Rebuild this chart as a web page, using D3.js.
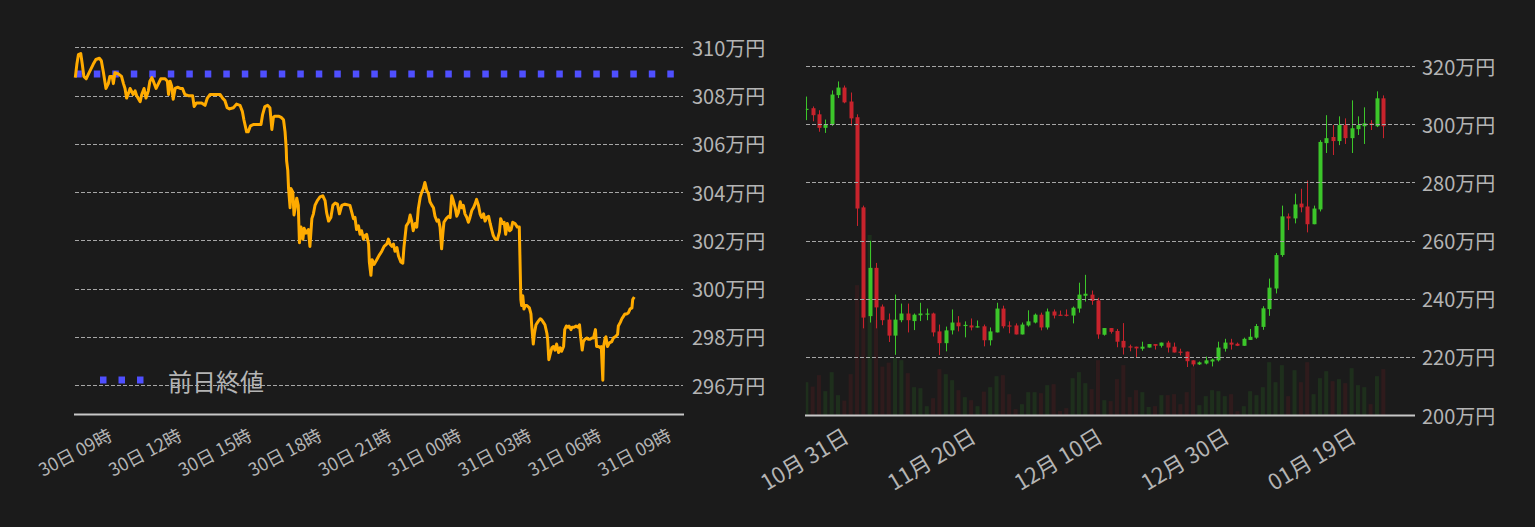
<!DOCTYPE html>
<html>
<head>
<meta charset="utf-8">
<script src="https://cdn.jsdelivr.net/npm/d3@7"></script>
<style>
  html, body { margin: 0; padding: 0; background: #1b1b1b; }
  svg { display: block; font-family: "Noto Sans CJK JP", "Noto Sans", sans-serif; }
  .grid { stroke: #a6a6a6; stroke-width: 1; stroke-dasharray: 4 2; }
  .axis-line { stroke: #c8c8c8; stroke-width: 2; }
  .label { fill: #b4b4b4; }
</style>
</head>
<body>
<svg id="chart" width="1535" height="527"></svg>
<script>
// ---- intraday (left) : [minutes after 30日 07:24, price 万円]
const intradayPrices = [
  [0,308.75],[4,309.3],[8,309.7],[14,309.75],[18,309.3],[22,308.8],[28,308.7],[34,308.9],[40,309.1],[46,309.3],
  [53,309.5],[62,309.55],[67,309.45],[72,309.0],[79,308.3],[85,308.5],[89,308.8],[95,308.8],[98,308.5],[102,308.95],
  [111,308.9],[119,308.8],[124,308.5],[128,308.3],[132,307.9],[137,308.1],[141,308.3],[149,308.05],[154,308.2],[158,308.0],
  [167,307.75],[171,308.05],[177,308.3],[182,307.9],[188,308.2],[192,308.6],[197,308.75],[201,308.6],[208,308.3],[214,308.5],
  [220,308.7],[231,308.7],[237,308.6],[240,308.05],[244,308.6],[248,308.4],[252,307.85],[257,308.3],[263,308.35],[270,308.3],
  [276,308.3],[282,308.05],[291,308.0],[302,308.0],[306,307.55],[312,307.7],[325,307.7],[334,307.6],[340,307.9],[347,308.05],
  [360,308.05],[373,308.05],[379,307.9],[385,307.8],[391,307.5],[397,307.45],[407,307.5],[415,307.65],[424,307.6],[430,307.35],
  [434,307.0],[441,306.5],[445,306.5],[451,306.75],[458,306.8],[471,306.8],[478,306.8],[482,307.2],[488,307.55],[495,307.6],
  [501,307.5],[506,306.6],[510,307.1],[513,307.15],[523,307.15],[530,307.1],[536,307.0],[540,306.5],[543,305.8],[544,305.3],
  [547,304.9],[549,304.15],[553,303.35],[555,304.15],[560,304.0],[563,303.05],[567,303.45],[570,303.75],[574,303.45],
  [577,301.9],[581,302.55],[586,302.05],[589,302.5],[594,302.3],[600,302.45],[604,301.75],[609,302.9],[613,303.1],[617,303.45],
  [623,303.65],[630,303.8],[637,303.85],[643,303.65],[647,303.15],[652,302.8],[658,302.95],[663,303.45],[669,303.55],[675,303.5],
  [680,303.1],[686,303.45],[694,303.5],[707,303.45],[712,303.15],[716,302.9],[720,302.95],[724,302.45],[729,302.6],[733,302.25],
  [737,302.4],[742,302.05],[746,302.2],[750,302.25],[755,301.85],[757,301.1],[761,300.55],[764,301.2],[769,301.0],[776,301.2],
  [783,301.4],[789,301.55],[795,301.75],[802,301.85],[806,302.05],[810,301.85],[815,301.75],[819,301.85],[823,301.55],[828,301.7],
  [832,301.35],[838,301.1],[843,301.05],[846,301.7],[852,302.6],[858,302.75],[862,303.05],[866,302.8],[870,302.4],[875,302.7],
  [879,302.55],[883,303.3],[888,303.8],[892,304.0],[896,304.15],[900,304.4],[905,304.05],[909,303.95],[913,303.6],[918,303.45],
  [922,303.35],[926,303.0],[931,302.8],[935,302.85],[939,302.55],[943,301.65],[946,302.25],[949,302.75],[955,302.9],[961,303.0],
  [965,302.95],[969,303.85],[973,303.65],[978,303.35],[982,303.0],[986,303.15],[991,303.6],[995,303.35],[999,303.45],[1003,303.1],
  [1008,302.95],[1012,302.75],[1016,302.95],[1021,303.25],[1025,303.35],[1029,303.5],[1033,303.7],[1038,303.45],[1042,303.1],[1046,302.95],
  [1051,303.1],[1055,302.8],[1059,302.95],[1064,303.0],[1068,302.7],[1072,302.45],[1076,302.2],[1081,302.05],[1087,302.05],[1092,302.35],
  [1095,302.9],[1100,302.7],[1104,302.75],[1108,302.25],[1112,302.7],[1118,302.4],[1122,302.45],[1126,302.75],[1132,302.7],[1138,302.55],
  [1143,302.55],[1147,299.55],[1149,299.3],[1152,299.7],[1155,299.15],[1158,299.3],[1162,299.3],[1169,299.2],[1173,298.95],[1175,298.45],
  [1178,297.9],[1179,297.7],[1182,298.15],[1186,298.5],[1192,298.65],[1197,298.75],[1201,298.7],[1205,298.6],[1209,298.5],[1214,298.15],
  [1216,297.9],[1219,297.05],[1222,297.25],[1227,297.55],[1231,297.6],[1235,297.45],[1239,297.7],[1244,297.35],[1248,297.55],[1252,297.4],
  [1257,297.6],[1260,298.3],[1264,298.45],[1268,298.4],[1271,298.45],[1276,298.3],[1279,298.4],[1284,298.4],[1289,298.45],[1294,298.4],
  [1298,298.5],[1301,298.0],[1305,297.45],[1308,297.8],[1312,297.9],[1317,297.95],[1321,297.9],[1325,297.9],[1330,297.95],[1334,297.95],
  [1339,298.3],[1342,297.6],[1347,297.6],[1351,297.55],[1354,297.6],[1358,296.2],[1360,297.6],[1364,297.95],[1366,298.0],[1370,297.6],
  [1375,297.75],[1381,297.8],[1385,297.95],[1390,298.0],[1396,298.1],[1398,298.45],[1403,298.6],[1407,298.75],[1411,298.85],[1415,298.95],
  [1420,298.95],[1424,299.0],[1428,299.15],[1433,299.2],[1435,299.55],[1439,299.65]
];
const prevClose = 308.9;
const intradayYTicks = [296, 298, 300, 302, 304, 306, 308, 310];
const legendLabel = "前日終値";

// ---- daily candles (right), first day 10/24
const candleOpen = [
  304.9,305.5,303.4,298.75,299.9,310.0,312.6,307.8,302.4,271.4,
  234.0,250.6,237.3,232.8,227.3,232.6,234.9,232.3,234.3,234.7,
  234.9,228.75,224.7,229.1,231.8,230.7,230.8,230.4,230.5,225.7,
  228.4,236.6,230.8,230.8,227.7,230.8,231.8,234.5,230.1,235.6,
  234.5,234.5,234.2,236.6,241.0,241.4,239.4,227.6,229.9,228.9,
  225.5,223.6,223.5,222.8,223.2,224.4,223.8,224.9,223.5,221.8,
  221.8,218.8,217.4,217.7,218.4,218.8,222.8,224.9,224.5,223.8,
  225.8,226.6,230.3,236.4,243.5,255.0,268.3,267.6,272.7,271.7,
  265.6,270.7,293.5,295.6,294.2,299.7,295.2,298.3,299.3,300.3,
  299.3,308.9
];
const candleHigh = [
  309.5,306.1,304.8,301.6,311.6,314.7,313.3,310.9,303.4,272.0,
  259.9,252.3,238.0,234.9,241.4,238.3,238.3,234.9,238.6,236.6,
  235.2,231.1,230.4,236.3,234.0,232.2,233.2,232.5,231.1,230.1,
  238.6,237.6,232.2,231.5,231.8,236.0,234.9,235.2,236.6,236.3,
  235.9,236.3,237.3,245.5,248.2,242.8,240.3,229.9,229.9,229.6,
  231.6,224.2,223.5,225.2,224.4,224.4,224.9,225.5,224.9,222.8,
  221.8,218.8,218.4,220.1,219.4,225.2,226.2,226.2,224.9,226.6,
  229.6,231.3,237.4,246.9,255.7,272.0,269.3,276.1,277.8,280.6,
  272.0,294.5,303.1,299.7,302.7,302.0,308.2,302.7,305.8,301.4,
  311.3,309.9
];
const candleLow = [
  301.4,301.0,297.4,297.0,299.4,309.0,307.2,299.5,265.0,229.8,
  231.8,229.8,230.9,225.1,220.7,231.9,228.4,229.2,232.3,232.6,
  227.0,220.6,221.9,227.7,228.75,226.7,229.1,230.1,223.6,223.9,
  228.4,229.8,228.1,227.7,227.7,230.4,231.5,229.1,229.4,233.2,
  234.2,233.9,231.5,235.2,239.0,237.9,226.2,227.3,228.0,223.3,
  220.8,221.9,219.8,222.1,223.2,222.5,223.2,221.5,221.5,220.5,
  216.5,216.7,217.2,217.4,216.7,218.4,221.8,222.5,223.7,223.8,
  225.8,226.2,229.3,234.1,241.8,254.4,263.6,265.9,269.7,262.8,
  265.6,270.0,290.1,289.4,292.8,293.2,290.1,296.3,293.2,298.0,
  299.0,295.2
];
const candleClose = [
  305.3,303.1,298.75,299.9,310.2,312.6,307.5,302.0,271.0,233.5,
  250.6,237.0,232.6,227.3,232.8,234.9,232.6,234.5,234.9,234.9,
  228.4,224.7,229.1,231.8,230.5,231.0,230.1,230.5,225.7,228.75,
  236.6,230.5,230.5,227.7,231.1,232.2,234.5,230.1,235.6,234.2,
  234.2,234.2,236.9,241.4,241.7,239.2,227.7,229.9,228.6,225.2,
  223.2,223.4,222.9,223.5,224.4,223.8,224.9,223.2,221.5,221.6,
  218.5,217.4,218.1,218.8,219.1,223.2,224.9,224.2,223.8,226.2,
  226.9,230.6,236.7,243.8,255.0,268.3,267.6,272.4,271.4,265.6,
  271.0,293.9,295.2,294.2,299.7,295.2,298.6,299.7,300.3,299.7,
  308.9,299.3
];
const candleVolume = [
  1640,1420,1990,1190,2140,990,720,2040,6490,6000,
  9000,4750,2420,2620,2870,2740,2090,1390,1340,440,
  840,2290,2040,1740,1240,890,740,440,1170,1390,
  1940,1990,1040,290,540,1140,1140,1090,1490,1540,
  200,340,1840,2140,1590,1290,2740,740,690,1790,
  2490,890,1240,1140,400,440,990,990,1040,540,
  1140,2390,490,940,1240,1190,940,1040,190,440,
  1190,990,1390,2640,1640,2490,940,2240,1640,2640,
  1040,1840,2190,1690,1790,1590,2340,1490,1390,540,
  1940,2290
];
const dailyYTicks = [200, 220, 240, 260, 280, 300, 320];

const svg = d3.select("#chart");
svg.append("rect").attr("width", 1535).attr("height", 527).attr("fill", "#1b1b1b");

// ================= left: intraday line =================
const dayStart = new Date(2024, 0, 30, 7, 24);
const toTime = m => d3.timeMinute.offset(dayStart, m);

const x1 = d3.scaleTime()
  .domain([dayStart, new Date(2024, 0, 31, 9, 31)])
  .range([75.3, 684]);
const y1 = d3.scaleLinear().domain([294.8, 310.35]).range([414, 39]);

const left = svg.append("g");

left.selectAll(".grid")
  .data(intradayYTicks)
  .join("line")
  .attr("class", "grid")
  .attr("x1", 75).attr("x2", 683)
  .attr("y1", d => Math.round(y1(d)) + 0.5)
  .attr("y2", d => Math.round(y1(d)) + 0.5);

left.selectAll(".ylab")
  .data(intradayYTicks)
  .join("text")
  .attr("class", "label ylab")
  .attr("x", 692)
  .attr("y", d => y1(d))
  .attr("dominant-baseline", "central")
  .attr("font-size", 20)
  .text(d => `${d}万円`);

left.append("line")
  .attr("class", "axis-line")
  .attr("x1", 74).attr("x2", 684)
  .attr("y1", 414.5).attr("y2", 414.5);

const hourTicks = d3.timeHour.every(3).range(new Date(2024, 0, 30, 9), new Date(2024, 0, 31, 9, 1));
left.selectAll(".xlab")
  .data(hourTicks)
  .join("text")
  .attr("class", "label xlab")
  .attr("text-anchor", "end")
  .attr("font-size", 18)
  .attr("transform", d => `translate(${x1(d) + 1},439.5) rotate(-28)`)
  .text(d => d3.timeFormat("%d日 %H時")(d));

// previous close dotted line
left.append("line")
  .attr("x1", x1.range()[0]).attr("x2", 683)
  .attr("y1", y1(prevClose)).attr("y2", y1(prevClose))
  .attr("stroke", "#4f4fff")
  .attr("stroke-width", 7)
  .attr("stroke-dasharray", "6.5 12");

const line = d3.line()
  .x(d => x1(toTime(d[0])))
  .y(d => y1(d[1]));

left.append("path")
  .datum(intradayPrices)
  .attr("d", line)
  .attr("fill", "none")
  .attr("stroke", "#ffab00")
  .attr("stroke-width", 3)
  .attr("stroke-linejoin", "round");

// legend
left.append("line")
  .attr("x1", 100).attr("x2", 145)
  .attr("y1", 380).attr("y2", 380)
  .attr("stroke", "#4f4fff")
  .attr("stroke-width", 7)
  .attr("stroke-dasharray", "6.5 12");
left.append("text")
  .attr("class", "label")
  .attr("x", 168).attr("y", 380)
  .attr("dominant-baseline", "central")
  .attr("font-size", 24)
  .text(legendLabel);

// ================= right: daily candles =================
const firstDay = new Date(2023, 9, 24);
const days = candleOpen.map((_, i) => d3.timeDay.offset(firstDay, i));
const candles = days.map((d, i) => ({
  date: d, o: candleOpen[i], h: candleHigh[i], l: candleLow[i], c: candleClose[i], v: candleVolume[i]
}));

const x2 = d3.scaleTime()
  .domain([firstDay, new Date(2024, 0, 28)])
  .range([806.3, 1415]);
const y2 = d3.scaleLinear().domain([200, 325]).range([415, 51.5]);
const yVol = d3.scaleLinear().domain([0, d3.max(candleVolume)]).range([415, 235]);

const up = "#3cc62a", down = "#c8232c";
const right = svg.append("g");

right.append("clipPath").attr("id", "plot2")
  .append("rect").attr("x", 805.8).attr("y", 0).attr("width", 1415 - 805.8).attr("height", 415);

const plot2 = right.append("g").attr("clip-path", "url(#plot2)");
const bodyW = 4;

plot2.selectAll(".vol")
  .data(candles)
  .join("rect")
  .attr("class", "vol")
  .attr("x", d => x2(d.date) - bodyW / 2)
  .attr("width", bodyW)
  .attr("y", d => yVol(d.v))
  .attr("height", d => 415 - yVol(d.v))
  .attr("fill", d => d.c >= d.o ? up : down)
  .attr("fill-opacity", 0.12);

right.selectAll(".grid")
  .data(dailyYTicks.filter(d => d > 200))
  .join("line")
  .attr("class", "grid")
  .attr("x1", 806).attr("x2", 1415)
  .attr("y1", d => Math.round(y2(d)) + 0.5)
  .attr("y2", d => Math.round(y2(d)) + 0.5);

const candle = plot2.append("g").selectAll("g")
  .data(candles)
  .join("g");

candle.append("line")
  .attr("x1", d => Math.round(x2(d.date)) + 0.5)
  .attr("x2", d => Math.round(x2(d.date)) + 0.5)
  .attr("y1", d => y2(d.h))
  .attr("y2", d => y2(d.l))
  .attr("stroke", d => d.c >= d.o ? up : down)
  .attr("stroke-width", 1);

candle.append("rect")
  .attr("x", d => Math.round(x2(d.date)) + 0.5 - bodyW / 2)
  .attr("width", bodyW)
  .attr("y", d => y2(Math.max(d.o, d.c)))
  .attr("height", d => Math.max(1.2, Math.abs(y2(d.o) - y2(d.c))))
  .attr("fill", d => d.c >= d.o ? up : down);

right.append("line")
  .attr("class", "axis-line")
  .attr("x1", 805).attr("x2", 1415)
  .attr("y1", 415.5).attr("y2", 415.5);

right.selectAll(".ylab")
  .data(dailyYTicks)
  .join("text")
  .attr("class", "label ylab")
  .attr("x", 1422)
  .attr("y", d => y2(d))
  .attr("dominant-baseline", "central")
  .attr("font-size", 20)
  .text(d => `${d}万円`);

const dayTicks = d3.timeDay.every(1).range(new Date(2023, 9, 31), new Date(2024, 0, 24))
  .filter((d, i) => i % 20 === 0);
right.selectAll(".xlab")
  .data(dayTicks)
  .join("text")
  .attr("class", "label xlab")
  .attr("text-anchor", "end")
  .attr("font-size", 22)
  .attr("transform", d => `translate(${x2(d)},441) rotate(-31)`)
  .text(d => d3.timeFormat("%m月 %d日")(d));
</script>
</body>
</html>
